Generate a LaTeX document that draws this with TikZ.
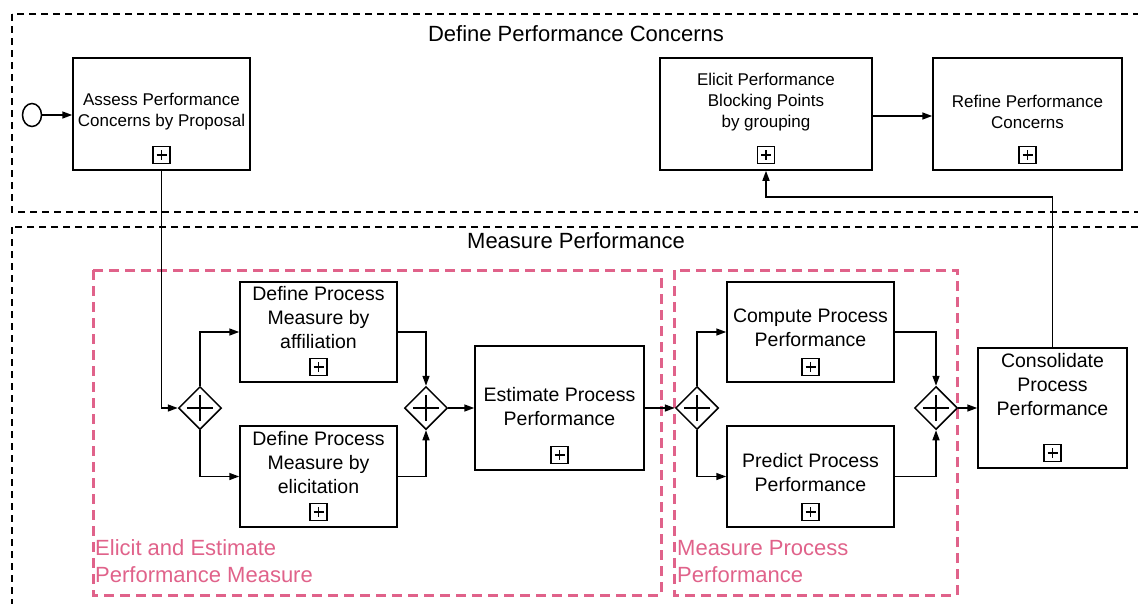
\documentclass[tikz,border=0pt]{standalone}
\usepackage{fontspec}
\setmainfont{Liberation Sans}
\usetikzlibrary{arrows.meta,positioning,shapes.geometric}
\definecolor{groupPink}{RGB}{224,98,138}

\begin{document}
\begin{tikzpicture}[x=1pt, y=-1pt,
    task/.style={draw, line width=1.5pt, inner sep=0pt},
    bigtext/.style={align=center, inner sep=0pt, font=\fontsize{19.5}{24}\selectfont},
    smalltext/.style={align=center, inner sep=0pt, font=\fontsize{17}{21}\selectfont},
    expand/.style={draw, line width=1.4pt, minimum size=17pt, inner sep=0pt,
        path picture={
            \draw[line width=1.4pt] ([yshift=-3.5pt]path picture bounding box.north) -- ([yshift=3.5pt]path picture bounding box.south);
            \draw[line width=1.4pt] ([xshift=3.5pt]path picture bounding box.west) -- ([xshift=-3.5pt]path picture bounding box.east);}},
    gate/.style={diamond, draw, line width=1.5pt, minimum width=43pt, minimum height=43pt, inner sep=0pt,
        path picture={
            \draw[line width=1.4pt] ([yshift=-8pt]path picture bounding box.north) -- ([yshift=8pt]path picture bounding box.south);
            \draw[line width=1.4pt] ([xshift=8pt]path picture bounding box.west) -- ([xshift=-8pt]path picture bounding box.east);}},
    lane/.style={line width=1.4pt, dash pattern=on 7pt off 5pt},
    group/.style={draw=groupPink, line width=3pt, dash pattern=on 10pt off 6pt},
    grouplabel/.style={text=groupPink, align=left, anchor=west, inner sep=0pt, font=\fontsize{22}{27}\selectfont},
    title/.style={inner sep=0pt, font=\fontsize{22}{27}\selectfont},
    arrow/.style={-{Triangle[length=10pt, width=7pt]}, line width=1.5pt}
]
\useasboundingbox (0,0) rectangle (1138,603);

% Lanes
\draw[lane] (12,14) rectangle (1170,212);
\draw[lane] (12,227) rectangle (1170,640);
\node[title] (deftitle) at (576,34) {Define Performance Concerns};
\node[title] (meastitle) at (576,241) {Measure Performance};

% Groups
\draw[group] (93,270) rectangle (661,595);
\draw[group] (674,270) rectangle (957,595);
\node[grouplabel] (elicitlabel) at (95,561.5) {Elicit and Estimate\\Performance Measure};
\node[grouplabel] (measlabel) at (677,561.5) {Measure Process\\Performance};

% Define performance concerns
\node[ellipse, draw, line width=1.5pt, minimum width=19pt, minimum height=23pt, inner sep=0pt] (start) at (32,115) {};
\node[task, minimum width=177pt, minimum height=112pt] (assess) at (161.5,114) {};
\node[smalltext] (assesstext) at (161.5,112) {Assess Performance\\Concerns by Proposal};
\node[expand, above=6.5pt of assess.south] (assessx) {};

\node[task, minimum width=212pt, minimum height=112pt] (elicit) at (766,114) {};
\node[smalltext] (elicittext) at (766,102) {Elicit Performance\\Blocking Points\\by grouping};
\node[expand, above=6.5pt of elicit.south] (elicitx) {};

\node[task, minimum width=189pt, minimum height=112pt] (refine) at (1027.5,114) {};
\node[smalltext] (refinetext) at (1027.5,112) {Refine Performance\\Concerns};
\node[expand, above=6.5pt of refine.south] (refinex) {};

% Elicit and estimate
\node[gate] (gw1) at (200,408) {};
\node[task, minimum width=157pt, minimum height=100pt] (defaff) at (318.5,332) {};
\node[bigtext] (defafftext) at (318.5,317.5) {Define Process\\Measure by\\affiliation};
\node[expand, above=6.5pt of defaff.south] (defaffx) {};

\node[task, minimum width=157pt, minimum height=101pt] (defelic) at (318.5,476.5) {};
\node[bigtext] (defelictext) at (318.5,462.5) {Define Process\\Measure by\\elicitation};
\node[expand, above=6.5pt of defelic.south] (defelicx) {};

\node[gate] (gw2) at (426,408) {};
\node[task, minimum width=169pt, minimum height=124pt] (estimate) at (559.5,408) {};
\node[bigtext] (estimatetext) at (559.5,406.5) {Estimate Process\\Performance};
\node[expand, above=6.5pt of estimate.south] (estimatex) {};

% Measure process performance
\node[gate] (gw3) at (697,408) {};
\node[task, minimum width=167pt, minimum height=100pt] (compute) at (810.5,332) {};
\node[bigtext] (computetext) at (810.5,327.5) {Compute Process\\Performance};
\node[expand, above=6.5pt of compute.south] (computex) {};

\node[task, minimum width=167pt, minimum height=101pt] (predict) at (810.5,476.5) {};
\node[bigtext] (predicttext) at (810.5,472.5) {Predict Process\\Performance};
\node[expand, above=6.5pt of predict.south] (predictx) {};

\node[gate] (gw4) at (936,408) {};
\node[task, minimum width=149pt, minimum height=120pt] (consol) at (1052.5,408) {};
\node[bigtext] (consoltext) at (1052.5,384.5) {Consolidate\\Process\\Performance};
\node[expand, above=6.5pt of consol.south] (consolx) {};

% Flows
\draw[arrow] (start) -- (start.east -| assess.west);
\draw[arrow] (elicit.east |- 0,116) -- (refine.west |- 0,116);
\draw[arrow] (assess.south) |- (gw1.west);
\draw[arrow] (gw1.north) |- (defaff.west);
\draw[arrow] (gw1.south) |- (defelic.west);
\draw[arrow] (defaff.east) -| (gw2.north);
\draw[arrow] (defelic.east) -| (gw2.south);
\draw[arrow] (gw2.east) -- (estimate.west);
\draw[arrow] (estimate.east) -- (gw3.west);
\draw[arrow] (gw3.north) |- (compute.west);
\draw[arrow] (gw3.south) |- (predict.west);
\draw[arrow] (compute.east) -| (gw4.north);
\draw[arrow] (predict.east) -| (gw4.south);
\draw[arrow] (gw4.east) -- (consol.west);
\coordinate (back) at (766,197);
\draw[arrow] (consol.north) |- (back) -- (elicit.south);

\end{tikzpicture}
\end{document}
